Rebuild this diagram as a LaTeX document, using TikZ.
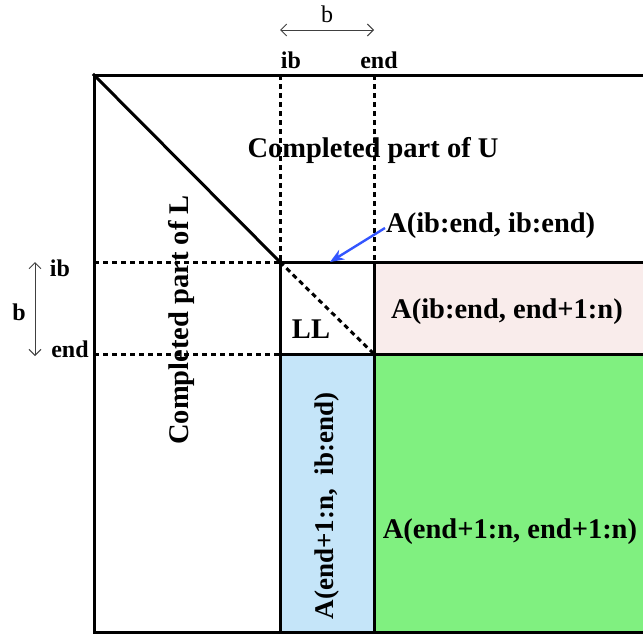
\documentclass[tikz,border=0pt]{standalone}
\usepackage{fontspec}
\setmainfont{Liberation Serif}
\usetikzlibrary{arrows.meta}
\definecolor{pinkfill}{HTML}{F9ECEB}
\definecolor{bluefill}{HTML}{C5E5F9}
\definecolor{greenfill}{HTML}{80F080}
\definecolor{arrowblue}{HTML}{3355FF}
\tikzset{
  border/.style={line width=3pt, line cap=rect},
  grid/.style={line width=3pt, dash pattern=on 5pt off 4pt},
  lbl/.style={font=\bfseries\fontsize{28.5}{32}\selectfont, inner sep=0pt},
  idx/.style={font=\bfseries\fontsize{24}{26}\selectfont, inner sep=0pt},
  dim/.style={line width=1pt, draw=black!75, {Straight Barb[length=6pt,width=12pt]}-{Straight Barb[length=6pt,width=12pt]}}
}
\begin{document}
\begin{tikzpicture}[x=1pt,y=-1pt]
\useasboundingbox (0,0) rectangle (643,635);
% key corners of the matrix partition
\coordinate (TL) at (94,75);
\coordinate (TR) at (648,75);
\coordinate (BL) at (94,632);
\coordinate (BR) at (648,632);
\coordinate (P) at (280,262);
\coordinate (Q) at (374,354);
% coloured blocks
\fill[pinkfill] (374,262) rectangle (648,354);
\fill[bluefill] (280,354) rectangle (374,632);
\fill[greenfill] (374,354) rectangle (648,632);
% dashed guides for ib and end
\draw[grid] (280,75) -- (P);
\draw[grid] (374,75) -- (374,262);
\draw[grid] (94,262) -- (P);
\draw[grid] (94,354) -- (280,354);
\draw[grid] (P) -- (Q);
% outer frame and block borders
\draw[border] (TR) -- (TL) -- (BL) -- (BR);
\draw[border] (TL) -- (P);
\draw[border] (P) -- (648,262);
\draw[border] (280,354) -- (648,354);
\draw[border] (P) -- (280,632);
\draw[border] (374,262) -- (374,632);
\fill (P) circle (2.5pt);
\fill (Q) circle (2.5pt);
% block size markers
\coordinate (hb1) at (280,30);
\coordinate (hb2) at (374,30);
\draw[dim] (hb1) -- (hb2);
\node[idx, font=\fontsize{24}{26}\selectfont] (hb) at (327,14) {b};
\node[idx] (hib) at (291,60) {ib};
\node[idx] (hend) at (379,60) {end};
\coordinate (vb1) at (35,262);
\coordinate (vb2) at (35,356);
\draw[dim] (vb1) -- (vb2);
\node[idx] (vb) at (19,312) {b};
\node[idx] (vib) at (60,268) {ib};
\node[idx] (vend) at (70,349) {end};
% block labels
\node[lbl] (U) at (373,150) {Completed part of U};
\node[lbl, rotate=90] (L) at (181,320) {Completed part of L};
\node[lbl, anchor=west] (diag) at (386,226) {A(ib:end, ib:end)};
\coordinate (diagtip) at (330,262);
\draw[arrowblue, line width=2.4pt, -{Stealth[length=14pt,width=11pt]}] (385,228) -- (diagtip);
\node[lbl] (LL) at (311,329) {LL};
\node[lbl] (row) at (507,312) {A(ib:end, end+1:n)};
\node[lbl, rotate=90, font=\bfseries\fontsize{27}{30}\selectfont] (col) at (327,506) {A(end+1:n,\ \ ib:end)};
\node[lbl] (rest) at (510,532) {A(end+1:n, end+1:n)};
\end{tikzpicture}
\end{document}
